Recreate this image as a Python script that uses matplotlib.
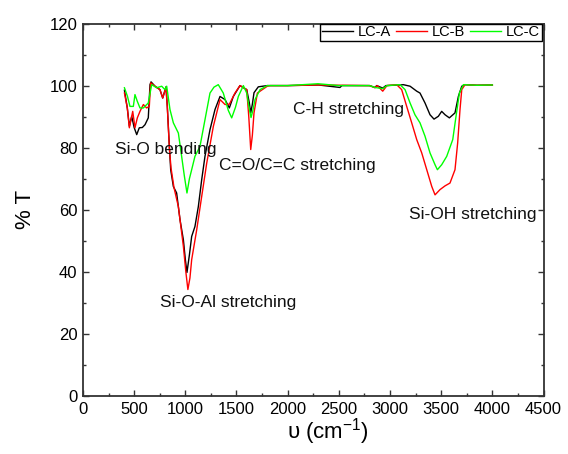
import matplotlib
matplotlib.use("Agg")
import matplotlib.pyplot as plt
from matplotlib.ticker import MultipleLocator

plt.rcParams['font.family'] = ['Liberation Sans', 'DejaVu Sans']
plt.rcParams['mathtext.fontset'] = 'custom'
plt.rcParams['mathtext.rm'] = 'Liberation Sans'
plt.rcParams['mathtext.it'] = 'Liberation Sans'

# ---- data (wavenumber cm^-1, %T) ----
wn_a = [405, 433, 453, 476, 500, 525, 550, 580, 606, 638, 655, 665, 704, 752, 779, 811, 824,
        844, 857, 883, 915, 948, 981, 1000, 1016, 1040, 1062, 1094, 1127, 1160, 1192, 1241,
        1290, 1339, 1388, 1430, 1469, 1534, 1600, 1625, 1639, 1655, 1671, 1713, 1800,
        2000, 2300, 2511, 2530, 2800, 2853, 2870, 2929, 2960, 3100, 3130, 3196, 3261,
        3293, 3342, 3391, 3430, 3472, 3505, 3538, 3580, 3635, 3668, 3701, 3733, 3850, 4000]
t_a = [98.5, 92.8, 86.9, 90.1, 86.5, 84.2, 86.4, 86.5, 87.4, 89.6, 100.3, 101.2, 99.8, 98.7, 96.0,
       99.6, 93.3, 80.4, 72.9, 67.5, 65.4, 56.8, 50.3, 44.0, 39.8, 45.5, 51.4, 54.6, 61.0, 69.7,
       77.2, 85.8, 92.3, 96.5, 95.5, 92.8, 96.5, 100.0, 98.7, 94.5, 91.2, 94.0, 97.7, 99.6, 100.0,
       100.0, 100.2, 99.4, 100.0, 100.0, 99.4, 100.0, 99.2, 100.0, 100.2, 100.3, 99.8, 98.2,
       97.6, 94.4, 90.6, 89.2, 90.1, 91.7, 90.6, 89.6, 91.2, 96.5, 99.8, 100.3, 100.1, 100.2]

wn_b = [405, 433, 453, 486, 508, 531, 557, 590, 622, 648, 661, 704, 752, 779, 811, 824,
        844, 860, 890, 932, 981, 1005, 1025, 1045, 1062, 1111, 1160, 1209, 1274, 1339, 1388,
        1430, 1485, 1534, 1600, 1620, 1639, 1655, 1671, 1704, 1801, 1830, 2000, 2300, 2800,
        2853, 2875, 2929, 2970, 3065, 3114, 3163, 3212, 3261, 3310, 3359, 3408, 3440, 3489,
        3538, 3586, 3635, 3661, 3684, 3701, 3733, 3850, 4000]
t_b = [97.6, 92.8, 86.4, 91.7, 86.4, 89.6, 91.7, 93.9, 92.8, 93.3, 100.9, 99.8, 98.7, 96.0, 99.4,
       93.0, 80.0, 73.5, 67.0, 61.0, 48.2, 40.0, 34.3, 38.0, 43.9, 53.5, 64.3, 75.0, 86.9, 95.5,
       93.9, 94.0, 97.6, 100.0, 98.7, 90.0, 79.4, 84.0, 91.2, 97.6, 99.8, 100.0, 100.0, 100.2,
       100.0, 99.3, 100.0, 98.2, 100.0, 100.3, 98.7, 93.3, 88.0, 82.6, 78.3, 72.9, 67.5, 64.8,
       66.5, 67.7, 68.6, 72.9, 81.5, 92.3, 98.7, 100.3, 100.1, 100.2]

wn_c = [405, 435, 459, 492, 508, 530, 557, 590, 638, 671, 720, 769, 801, 818, 850, 883,
        932, 964, 990, 1016, 1040, 1062, 1094, 1143, 1192, 1241, 1280, 1322, 1371, 1420,
        1453, 1490, 1518, 1567, 1600, 1625, 1642, 1660, 1681, 1730, 1800, 2000, 2296, 2500,
        2800, 2853, 2929, 2970, 3098, 3147, 3196, 3244, 3293, 3342, 3391, 3440, 3463, 3505,
        3554, 3613, 3645, 3678, 3717, 3850, 4000]
t_c = [99.3, 96.5, 93.3, 93.3, 97.1, 95.0, 92.8, 92.8, 94.4, 100.3, 99.3, 99.8, 98.7, 99.8, 92.3,
       88.0, 84.7, 77.2, 71.0, 65.4, 70.0, 72.9, 77.2, 80.4, 89.0, 97.6, 99.5, 100.3, 97.6, 92.0,
       89.6, 93.0, 96.5, 100.0, 97.6, 92.5, 89.7, 92.0, 95.5, 98.7, 100.0, 100.0, 100.6, 100.0,
       100.0, 99.4, 99.0, 100.0, 100.3, 98.7, 94.4, 90.6, 88.0, 83.7, 78.3, 74.5, 72.9, 74.5,
       77.2, 82.6, 90.1, 97.6, 100.3, 100.1, 100.2]

series = [("LC-A", wn_a, t_a, "#000000"),
          ("LC-B", wn_b, t_b, "#ff0000"),
          ("LC-C", wn_c, t_c, "#00ff00")]

annot_text = ["Si-O bending", "C=O/C=C stretching", "C-H stretching",
              "Si-OH stretching", "Si-O-Al stretching"]
annot_x = [811, 2096, 2595, 3806, 1422]
annot_y = [79.4, 74.4, 92.3, 58.5, 30.0]

# ---- figure ----
fig = plt.figure(figsize=(5.68, 4.54), dpi=100)
ax = fig.add_axes([0.1461, 0.1278, 0.8108, 0.8204])

for name, x, y, c in series:
    ax.plot(x, y, color=c, lw=1.0, label=name)

for s, x, y in zip(annot_text, annot_x, annot_y):
    ax.text(x, y, s, ha='center', va='center', fontsize=12.5, color='#111111')

ax.set_xlim(0, 4500)
ax.set_ylim(0, 120)
ax.xaxis.set_major_locator(MultipleLocator(500))
ax.xaxis.set_minor_locator(MultipleLocator(250))
ax.yaxis.set_major_locator(MultipleLocator(20))
ax.yaxis.set_minor_locator(MultipleLocator(10))
ax.tick_params(which='both', direction='in', top=True, right=True, color='#333333')
ax.tick_params(which='major', length=4, width=1.0, labelsize=12, pad=4)
ax.tick_params(which='minor', length=2.5, width=1.0)
for sp in ax.spines.values():
    sp.set_color('#333333')
    sp.set_linewidth(1.3)

ax.set_xlabel("υ (cm$^{-1}$)", fontsize=16)
ax.xaxis.set_label_coords(0.532, -0.055)
ax.set_ylabel("% T", fontsize=16, labelpad=10)

leg = ax.legend(loc='upper right', ncol=3, bbox_to_anchor=(0.996, 1.0), borderaxespad=0,
                fontsize=10.5, frameon=True, fancybox=False, framealpha=1,
                edgecolor='#000000', handlelength=2.1, handletextpad=0.35,
                columnspacing=0.35, borderpad=0.12)
leg.get_frame().set_linewidth(1.0)

fig.savefig("out.png", dpi=100)
